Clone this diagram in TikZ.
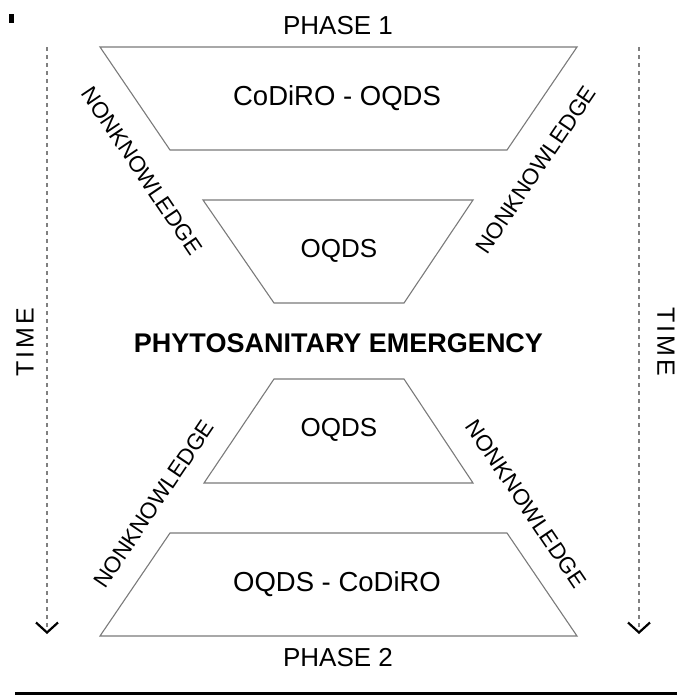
\documentclass[tikz,border=0pt]{standalone}
\usepackage{fontspec}
\setmainfont{Liberation Sans}
\usetikzlibrary{arrows.meta}
\definecolor{edgegray}{HTML}{7A7A7A}
\definecolor{dashgray}{HTML}{808080}
\tikzset{
  trap/.style={draw=edgegray, line width=1.1pt, line join=miter},
  lbl/.style={font=\fontsize{26}{30}\selectfont, inner sep=0pt, anchor=center},
  biglbl/.style={font=\fontsize{27.5}{31}\selectfont, inner sep=0pt, anchor=center},
  nk/.style={font=\fontsize{22.5}{26}\selectfont, inner sep=0pt, anchor=center},
  timelbl/.style={font=\fontsize{25}{30}\selectfont\addfontfeature{LetterSpace=12}, inner sep=0pt, anchor=center},
  timearrow/.style={draw=dashgray, line width=1.6pt, dash pattern=on 4pt off 4pt,
    -{Straight Barb[length=10pt, width=22pt, line width=2.2pt, color=black, sep=0pt]}},
}
\begin{document}
\begin{tikzpicture}[x=1pt, y=-1pt]
\useasboundingbox (0,0) rectangle (677,696);
% small mark top-left
\fill[black] (9,14) rectangle (14,23);
% trapezoids
\draw[trap] (100,47) -- (577,47) -- (507,150) -- (170,150) -- cycle;
\draw[trap] (203,200) -- (473,200) -- (404,303) -- (274,303) -- cycle;
\draw[trap] (274,379) -- (404,379) -- (473,483) -- (204,483) -- cycle;
\draw[trap] (170,533) -- (507,533) -- (577,636) -- (100,636) -- cycle;
% texts
\node[lbl] (p1) at (338,26) {PHASE 1};
\node[biglbl] (t1) at (337,98) {CoDiRO - OQDS};
\node[lbl] (t2) at (339,251) {OQDS};
\node[lbl, font=\fontsize{27}{30}\selectfont\bfseries] (pe) at (338.5,343) {PHYTOSANITARY EMERGENCY};
\node[lbl] (t3) at (339,430) {OQDS};
\node[biglbl] (t4) at (337,584) {OQDS - CoDiRO};
\node[lbl] (p2) at (338,658) {PHASE 2};
% nonknowledge
\node[nk, rotate=-56] (nk1) at (142,171) {NONKNOWLEDGE};
\node[nk, rotate=56] (nk2) at (536,170) {NONKNOWLEDGE};
\node[nk, rotate=56] (nk3) at (154,504) {NONKNOWLEDGE};
\node[nk, rotate=-56] (nk4) at (526,504) {NONKNOWLEDGE};
% time
\node[timelbl, rotate=90] (tl) at (25,342) {TIME};
\node[timelbl, rotate=-90] (tr) at (666,342) {TIME};
\coordinate (la) at (47,47);
\coordinate (lb) at (47,634);
\coordinate (ra) at (639,47);
\coordinate (rb) at (639,634);
\draw[timearrow] (la) -- (lb);
\draw[timearrow] (ra) -- (rb);
% bottom rule
\coordinate (r1) at (15,693);
\coordinate (r2) at (677,693);
\draw[line width=3pt] (r1) -- (r2);
\end{tikzpicture}
\end{document}
